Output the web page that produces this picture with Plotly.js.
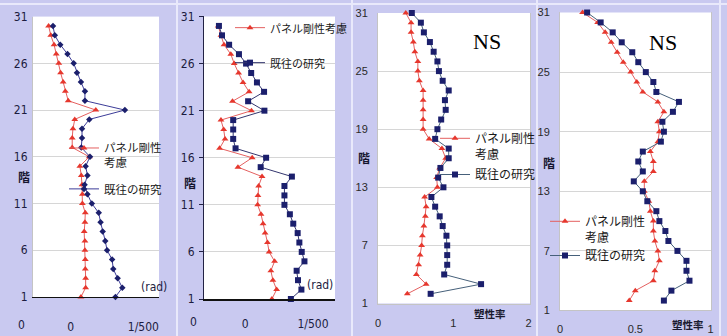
<!DOCTYPE html>
<html>
<head>
<meta charset="utf-8">
<script src="https://cdn.plot.ly/plotly-3.0.1.min.js"></script>
<style>
  html, body { margin: 0; padding: 0; background: #c9c9f0; }
  #chart { width: 727px; height: 336px; }
</style>
</head>
<body>
<div id="chart"></div>
<script>
// Floors (階)
const floorsLow  = [1,2,3,4,5,6,7,8,9,10,11,12,13,14,15,16,17,18,19,20,21,22,23,24,25,26,27,28,29,30];
const floorsHigh = [2,3,4,5,6,7,8,9,10,11,12,13,14,15,16,17,18,19,20,21,22,23,24,25,26,27,28,29,30,31];

// Story drift angle, in 1/1000 rad (1/500 rad = 2)
const driftA_panel = [0.28,0.41,0.41,0.40,0.40,0.39,0.39,0.37,0.39,0.40,0.32,0.32,0.31,0.29,0.25,0.51,0.04,0.04,0.06,0.11,0.69,-0.07,-0.15,-0.21,-0.28,-0.33,-0.40,-0.46,-0.55,-0.61];
const driftA_prior = [1.23,1.42,1.29,1.17,1.14,1.00,0.95,0.88,0.82,0.77,0.58,0.46,0.38,0.46,0.41,0.53,0.29,0.31,0.31,0.51,1.49,0.39,0.39,0.28,0.17,0.08,-0.09,-0.29,-0.44,-0.49];
const driftB_panel = [0.79,0.93,0.82,0.76,0.87,0.71,0.66,0.59,0.53,0.47,0.37,0.38,0.40,0.50,-0.21,0.21,-0.75,-0.59,-0.63,-0.71,0.19,-0.37,0.12,-0.06,-0.19,-0.32,-0.42,-0.62,-0.71,-0.79];
const driftB_prior = [1.35,1.66,1.56,1.52,1.75,1.67,1.60,1.55,1.42,1.32,1.16,1.16,1.16,1.38,0.46,0.62,-0.28,-0.35,-0.35,-0.35,0.57,0.09,0.56,0.35,0.18,0.03,-0.18,-0.47,-0.68,-0.77];

// Ductility factor (塑性率), NS direction
const ductC_panel = [0.39,0.64,0.51,0.54,0.56,0.58,0.59,0.61,0.63,0.64,0.62,0.79,0.78,0.82,0.90,0.85,0.68,0.60,0.60,0.60,0.60,0.60,0.55,0.53,0.53,0.49,0.47,0.44,0.44,0.37];
const ductC_prior = [0.70,1.37,0.88,0.92,0.92,0.92,0.91,0.86,0.82,0.76,0.71,0.87,0.80,0.83,0.94,0.94,0.76,0.79,0.84,0.90,0.89,0.94,0.86,0.81,0.79,0.74,0.69,0.61,0.57,0.45];
const ductD_panel = [0.46,0.50,0.62,0.63,0.66,0.65,0.63,0.62,0.62,0.60,0.59,0.56,0.56,0.62,0.62,0.60,0.65,0.66,0.65,0.69,0.65,0.55,0.51,0.47,0.42,0.38,0.34,0.30,0.25,0.15];
const ductD_prior = [0.69,0.74,0.86,0.84,0.84,0.78,0.72,0.70,0.66,0.64,0.58,0.55,0.49,0.55,0.52,0.55,0.67,0.69,0.68,0.75,0.79,0.64,0.62,0.57,0.52,0.48,0.41,0.35,0.27,0.18];

// Tick labels
const driftTickVals = [0, 2];
const driftTickText = ['0', '1/500'];
const floorTicksA = [1, 6, 11, 16, 21, 26, 31];
const floorTicksB = [1, 7, 13, 19, 25, 31];
const ductTicksC = [0, 1, 2];
const ductTickTextC = ['0', '1', '2'];
const ductTicksD = [0, 0.5, 1];
const ductTickTextD = ['0', '0.5', '1'];

const NAME_PANEL = 'パネル剛性考慮';
const NAME_PANEL_BR = 'パネル剛性<br>考慮';
const NAME_PRIOR = '既往の研究';

const RED = '#e6372d';
const RED_LINE = '#e46060';
const NAVY = '#1b1f6c';

function series(x, y, xa, ya, name, kind, legend, group, opts) {
  const isRed = kind === 'panel';
  return {
    type: 'scatter', mode: 'lines+markers', x: x, y: y, xaxis: xa, yaxis: ya,
    name: name, legend: legend, legendgroup: group, cliponaxis: false,
    line: { color: isRed ? RED_LINE : opts.blueLine, width: 1 },
    marker: isRed ? { symbol: 'triangle-up', size: 6, color: RED }
                  : { symbol: opts.blueSymbol, size: opts.blueSize, color: NAVY }
  };
}

const optA = { blueLine: '#3c3c98', blueSymbol: 'diamond', blueSize: 5 };
const optB = { blueLine: '#33366e', blueSymbol: 'square', blueSize: 6 };
const optC = { blueLine: '#46607a', blueSymbol: 'square', blueSize: 6 };

const traces = [
  series(driftA_panel, floorsLow, 'x', 'y', NAME_PANEL_BR, 'panel', 'legend', 'a1', optA),
  series(driftA_prior, floorsLow, 'x', 'y', NAME_PRIOR, 'prior', 'legend', 'a2', optA),
  series(driftB_panel, floorsLow, 'x2', 'y2', NAME_PANEL, 'panel', 'legend2', 'b1', optB),
  series(driftB_prior, floorsLow, 'x2', 'y2', NAME_PRIOR, 'prior', 'legend2', 'b2', optB),
  series(ductC_panel, floorsHigh, 'x3', 'y3', NAME_PANEL_BR, 'panel', 'legend3', 'c1', optC),
  series(ductC_prior, floorsHigh, 'x3', 'y3', NAME_PRIOR, 'prior', 'legend3', 'c2', optC),
  series(ductD_panel, floorsHigh, 'x4', 'y4', NAME_PANEL_BR, 'panel', 'legend4', 'd1', optC),
  series(ductD_prior, floorsHigh, 'x4', 'y4', NAME_PRIOR, 'prior', 'legend4', 'd2', optC)
];

const NARROW = 'Liberation Sans Narrow, DejaVu Sans Condensed, Arial Narrow, sans-serif';
const SANS = 'Liberation Sans, Arial, sans-serif';
const JP = 'Noto Sans CJK JP, sans-serif';

const tickFontA = { family: NARROW, size: 12, color: '#1c1c40' };
const tickFontB = { family: SANS, size: 11, color: '#2a2a2a' };

function xAxis(domain, range, anchor, vals, text, font, standoff, lineColor, lineWidth) {
  return {
    domain: domain, range: range, anchor: anchor, fixedrange: true,
    tickmode: 'array', tickvals: vals, ticktext: text, ticks: '',
    tickfont: font, ticklabelstandoff: standoff,
    showgrid: false, zeroline: false,
    showline: true, linecolor: lineColor, linewidth: lineWidth
  };
}
function yAxis(domain, anchor, vals, font, standoff, extra) {
  return Object.assign({
    domain: domain, range: [1, 31], anchor: anchor, fixedrange: true,
    tickmode: 'array', tickvals: vals, ticks: '',
    tickfont: font, ticklabelstandoff: standoff,
    showgrid: true, gridcolor: '#d6d6d6', gridwidth: 1, zeroline: false,
    showline: true, linecolor: '#c4c4c4', linewidth: 1
  }, extra || {});
}

const legendBase = {
  xanchor: 'left', yanchor: 'top', bgcolor: 'rgba(0,0,0,0)', borderwidth: 0,
  valign: 'top', traceorder: 'grouped', itemclick: false, itemdoubleclick: false
};

const ann = (x, y, text, font, extra) => Object.assign({
  xref: 'paper', yref: 'paper', x: x / 727, y: 1 - y / 336,
  text: text, showarrow: false, font: font, xanchor: 'center', yanchor: 'middle'
}, extra || {});

const kaiFont = { family: JP, size: 12, color: '#15152e', weight: 700 };
const sepColor = '#e9e9fb';
const vline = (px) => ({ type: 'line', xref: 'paper', yref: 'paper', x0: px / 727, x1: px / 727, y0: 0, y1: 1,
  line: { color: sepColor, width: 2 }, layer: 'below' });

const layout = {
  width: 727, height: 336,
  margin: { l: 0, r: 0, t: 0, b: 0 },
  paper_bgcolor: '#c9c9f0', plot_bgcolor: '#ffffff',
  showlegend: true,
  font: { family: SANS, color: '#222' },

  xaxis:  xAxis([0.0454, 0.2187], [-1.04, 2.43], 'y',  driftTickVals, driftTickText, tickFontA, 18, '#111111', 1.5),
  xaxis2: xAxis([0.2806, 0.4608], [-1.21, 2.65], 'y2', driftTickVals, driftTickText, tickFontA, 13, '#111111', 1.5),
  xaxis3: xAxis([0.5199, 0.7290], [0, 2.02],     'y3', ductTicksC, ductTickTextC, tickFontB, 9, '#c4c4c4', 1),
  xaxis4: xAxis([0.7703, 0.9780], [0, 1.003],    'y4', ductTicksD, ductTickTextD, tickFontB, 8, '#c4c4c4', 1),

  yaxis:  yAxis([0.1161, 0.9506], 'x',  floorTicksA, tickFontA, 2),
  yaxis2: yAxis([0.1101, 0.9509], 'x2', floorTicksA, tickFontA, 2,
                { linecolor: '#222244', ticks: 'outside', ticklen: 4, tickcolor: '#222244' }),
  yaxis3: yAxis([0.0967, 0.9613], 'x3', floorTicksB, tickFontB, 7, { mirror: true }),
  yaxis4: yAxis([0.0759, 0.9628], 'x4', floorTicksB, tickFontB, 7, { mirror: true }),

  legend:  Object.assign({}, legendBase, { x: 64 / 727,  y: 1 - 134 / 336, tracegroupgap: 8,
             font: { family: JP, size: 11.5, color: '#1a1a1a' } }),
  legend2: Object.assign({}, legendBase, { x: 230 / 727, y: 1 - 14 / 336,  tracegroupgap: 16,
             font: { family: JP, size: 11, color: '#1a1a1a' } }),
  legend3: Object.assign({}, legendBase, { x: 435 / 727, y: 1 - 124 / 336, tracegroupgap: 2,
             font: { family: JP, size: 12, color: '#1a1a1a' } }),
  legend4: Object.assign({}, legendBase, { x: 545 / 727, y: 1 - 207 / 336, tracegroupgap: 0,
             font: { family: JP, size: 12, color: '#1a1a1a' } }),

  annotations: [
    ann(24, 176, '階', kaiFont),
    ann(190, 182, '階', kaiFont),
    ann(364, 157, '階', kaiFont),
    ann(549, 162, '階', kaiFont),
    ann(21, 325, '0', tickFontA),
    ann(193, 322, '0', tickFontA),
    ann(154, 287, '(rad)', { family: NARROW, size: 12, color: '#1c1c40' }),
    ann(320, 285, '(rad)', { family: NARROW, size: 12, color: '#1c1c40' }),
    ann(490, 313, '塑性率', { family: JP, size: 10.5, color: '#1a1a2e', weight: 700 }),
    ann(688, 324, '塑性率', { family: JP, size: 10.5, color: '#1a1a2e', weight: 700 }),
    ann(487, 41, 'NS', { family: 'Liberation Serif, Times New Roman, serif', size: 22, color: '#000000' }),
    ann(663, 42, 'NS', { family: 'Liberation Serif, Times New Roman, serif', size: 22, color: '#000000' })
  ],

  shapes: [
    vline(177), vline(352), vline(537), vline(720),
    { type: 'line', xref: 'paper', yref: 'paper', x0: 0, x1: 1, y0: 1 - 4 / 336, y1: 1 - 4 / 336,
      line: { color: sepColor, width: 2 }, layer: 'below' }
  ]
};

Plotly.newPlot('chart', traces, layout, { staticPlot: true, displayModeBar: false });
</script>
</body>
</html>
